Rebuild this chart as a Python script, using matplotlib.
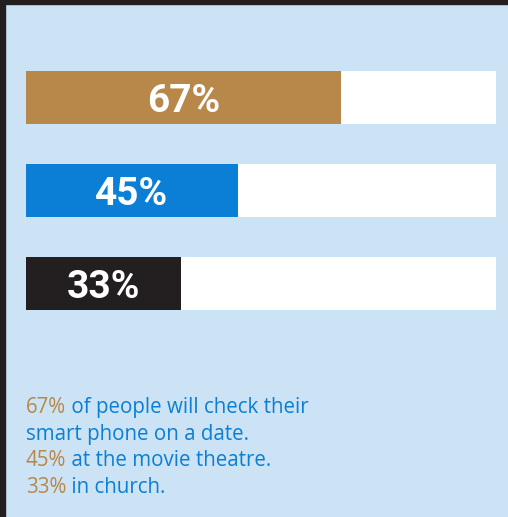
import matplotlib.pyplot as plt
from matplotlib.patches import Rectangle

# values shown in the chart
places = ['date', 'movie theatre', 'church']
shares = [67, 45, 33]
bar_colors = ['#b8874a', '#0a7fd5', '#231f20']

# caption lines: (highlighted part, rest of line)
caption = [
    ('67%', ' of people will check their'),
    ('', 'smart phone on a date.'),
    ('45%', ' at the movie theatre.'),
    ('33%', ' in church.'),
]

W, H = 508, 517
bg = '#cce3f5'
tan = '#b8874a'
blue = '#0a7fd5'

fig = plt.figure(figsize=(W / 100, H / 100), dpi=100, facecolor=bg)

# dark frame on top and left
fig.patches.append(Rectangle((0, 1 - 4 / H), 1, 4 / H, transform=fig.transFigure,
                             color='#231f20', zorder=0))
fig.patches.append(Rectangle((0, 0), 5 / W, 1, transform=fig.transFigure,
                             color='#231f20', zorder=0))

ax = fig.add_axes([26 / W, 0, 470 / W, 1])
ax.set_facecolor('none')
ax.set_xlim(0, 100)
# row 0 centred at 97.5 px from top, rows 93 px apart
ax.set_ylim((H - 97.5) / 93, -97.5 / 93)
ax.axis('off')

rows = range(len(places))
ax.barh(rows, [100] * len(places), height=0.57, color='white')
ax.barh(rows, shares, height=0.57, color=bar_colors)
for i, v in enumerate(shares):
    ax.text(v / 2, i + 0.16, f'{v}%', ha='center', va='baseline', color='white',
            fontsize=28, fontweight='bold', family='Roboto')

# caption with coloured percentages
font = dict(fontsize=14.8, family='Open Sans')
y = 1 - 413 / H
for hi, rest in caption:
    if hi:
        t = fig.text(26 / W, y, hi, color=tan, va='baseline', **font)
        ax.annotate(rest, xy=(1, 0), xycoords=t, va='bottom', color=blue,
                    annotation_clip=False, **font)
    else:
        fig.text(26 / W, y, rest, color=blue, va='baseline', **font)
    y -= 26.7 / H

fig.savefig('out.png', dpi=100, facecolor=bg)
